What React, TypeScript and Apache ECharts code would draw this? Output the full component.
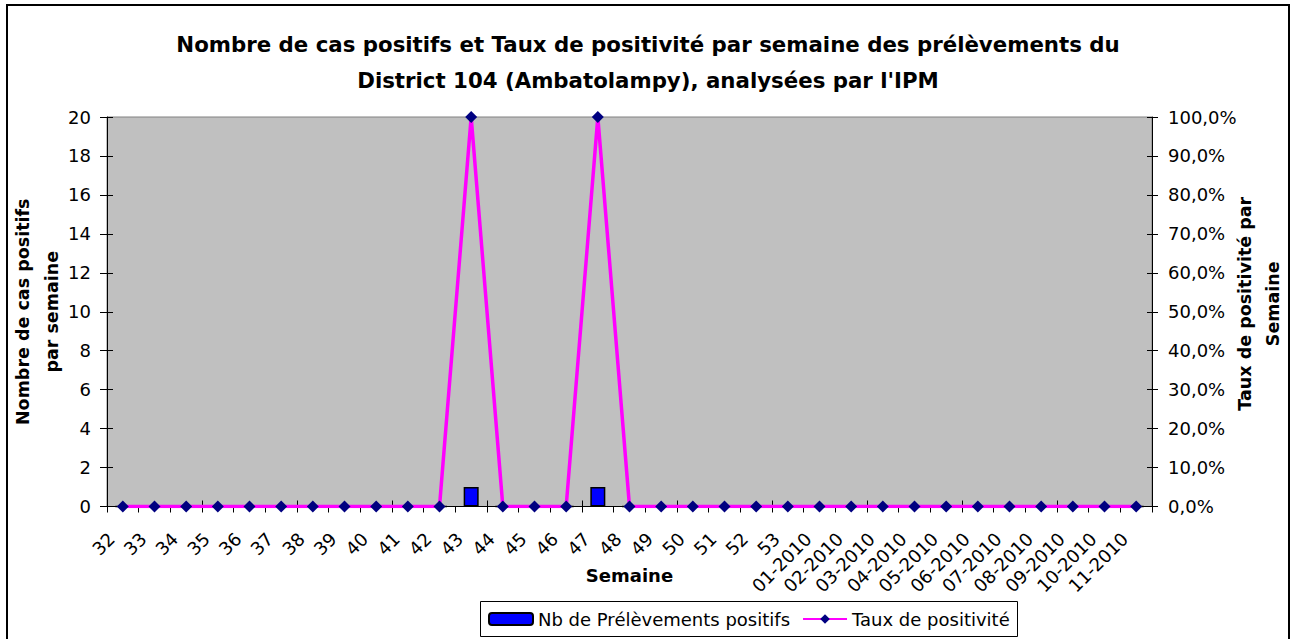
import React, { useEffect, useRef } from 'react';
import * as echarts from 'echarts';

const weeks = [
  '32', '33', '34', '35', '36', '37', '38', '39', '40', '41', '42', '43', '44', '45', '46', '47',
  '48', '49', '50', '51', '52', '53', '01-2010', '02-2010', '03-2010', '04-2010', '05-2010',
  '06-2010', '07-2010', '08-2010', '09-2010', '10-2010', '11-2010',
];
const positiveCounts = [
  0, 0, 0, 0, 0, 0, 0, 0, 0, 0, 0, 1, 0, 0, 0, 1,
  0, 0, 0, 0, 0, 0, 0, 0, 0, 0, 0,
  0, 0, 0, 0, 0, 0,
];
const positivityRate = [
  0, 0, 0, 0, 0, 0, 0, 0, 0, 0, 0, 1, 0, 0, 0, 1,
  0, 0, 0, 0, 0, 0, 0, 0, 0, 0, 0,
  0, 0, 0, 0, 0, 0,
];
const countAxis = { min: 0, max: 20, interval: 2 };
const rateAxis = { min: 0, max: 1, interval: 0.1 };

const titleText =
  "Nombre de cas positifs et Taux de positivité par semaine des prélèvements du\nDistrict 104 (Ambatolampy), analysées par l'IPM";
const seriesBarName = 'Nb de Prélèvements positifs';
const seriesLineName = 'Taux de positivité';

const FONT = '"DejaVu Sans", sans-serif';

export default function App() {
  const ref = useRef<HTMLDivElement>(null);
  useEffect(() => {
    if (!ref.current) return;
    const chart = echarts.init(ref.current, null, { renderer: 'svg' });
    const fmtPct = (v: number) => (v * 100).toFixed(1).replace('.', ',') + '%';
    chart.setOption({
      animation: false,
      backgroundColor: '#ffffff',
      textStyle: { fontFamily: FONT, color: '#000' },
      title: {
        text: titleText,
        left: 'center',
        top: 26,
        padding: 0,
        textStyle: { fontFamily: FONT, fontSize: 21.3, fontWeight: 'bold', color: '#000', lineHeight: 36 },
      },
      graphic: [
        {
          type: 'rect',
          shape: { x: 7, y: 5, width: 1282, height: 645 },
          style: { fill: 'none', stroke: '#000', lineWidth: 2 },
          silent: true,
        },
        {
          type: 'rect',
          shape: { x: 480.5, y: 601.5, width: 537, height: 35 },
          style: { fill: '#fff', stroke: '#000', lineWidth: 1 },
          silent: true,
          z: 0,
        },
      ],
      legend: {
        left: 488,
        top: 610,
        padding: 0,
        itemWidth: 44,
        itemHeight: 12,
        itemGap: 12,
        textStyle: { fontFamily: FONT, fontSize: 18, color: '#000' },
        data: [seriesBarName, seriesLineName],
        z: 10,
      },
      grid: {
        left: 107,
        right: 144,
        top: 117,
        bottom: 132.5,
        outerBoundsMode: 'none',
        containLabel: false,
        show: true,
        backgroundColor: '#C0C0C0',
        borderColor: '#808080',
        borderWidth: 1,
      },
      xAxis: [
        {
          type: 'category',
          data: weeks,
          boundaryGap: true,
          name: 'Semaine',
          nameLocation: 'middle',
          nameGap: 60,
          nameMoveOverlap: false,
          nameTextStyle: { fontFamily: FONT, fontSize: 18, fontWeight: 'bold', color: '#000' },
          axisLine: { show: true, lineStyle: { color: '#000', width: 1 } },
          axisTick: { show: true, inside: false, length: 6, lineStyle: { color: '#000' } },
          axisLabel: {
            interval: 0,
            rotate: 45,
            margin: 18,
            padding: [0, 16, 0, 0],
            fontFamily: FONT,
            fontSize: 18,
            color: '#000',
          },
          splitLine: { show: false },
        },
        {
          type: 'category',
          data: weeks,
          position: 'bottom',
          boundaryGap: true,
          axisLine: { show: false },
          axisTick: { show: true, inside: true, length: 6, lineStyle: { color: '#000' } },
          axisLabel: { show: false },
          splitLine: { show: false },
        },
      ],
      yAxis: [
        {
          type: 'value',
          position: 'left',
          ...countAxis,
          name: 'Nombre de cas positifs\npar semaine',
          nameLocation: 'middle',
          nameRotate: 90,
          nameGap: 41,
          nameMoveOverlap: false,
          nameTextStyle: { fontFamily: FONT, fontSize: 17.5, fontWeight: 'bold', color: '#000', lineHeight: 29 },
          axisLine: { show: true, lineStyle: { color: '#000', width: 1 } },
          axisTick: { show: true, inside: false, length: 7, lineStyle: { color: '#000' } },
          axisLabel: { margin: 16, fontFamily: FONT, fontSize: 18, color: '#000' },
          splitLine: { show: false },
        },
        {
          type: 'value',
          position: 'right',
          ...rateAxis,
          name: 'Taux de positivité par\nSemaine',
          nameLocation: 'middle',
          nameRotate: 90,
          nameGap: 79,
          nameMoveOverlap: false,
          nameTextStyle: {
            fontFamily: FONT,
            fontSize: 17.5,
            fontWeight: 'bold',
            color: '#000',
            lineHeight: 28,
            padding: [0, 0, 0, 16],
          },
          axisLine: { show: true, lineStyle: { color: '#000', width: 1 } },
          axisTick: { show: true, inside: false, length: 6, lineStyle: { color: '#000' } },
          axisLabel: { margin: 16, fontFamily: FONT, fontSize: 18, color: '#000', formatter: fmtPct },
          splitLine: { show: false },
        },
        {
          type: 'value',
          position: 'left',
          ...countAxis,
          axisLine: { show: false },
          axisTick: { show: true, inside: true, length: 6, lineStyle: { color: '#000' } },
          axisLabel: { show: false },
          splitLine: { show: false },
        },
        {
          type: 'value',
          position: 'right',
          ...rateAxis,
          axisLine: { show: false },
          axisTick: { show: true, inside: true, length: 5, lineStyle: { color: '#000' } },
          axisLabel: { show: false },
          splitLine: { show: false },
        },
      ],
      series: [
        {
          name: seriesBarName,
          type: 'bar',
          xAxisIndex: 0,
          yAxisIndex: 0,
          data: positiveCounts,
          barWidth: 15,
          itemStyle: { color: '#0000FF', borderColor: '#000', borderWidth: 1.5 },
          z: 2,
        },
        {
          name: seriesLineName,
          type: 'line',
          xAxisIndex: 0,
          yAxisIndex: 1,
          data: positivityRate,
          symbol: 'diamond',
          symbolSize: 12,
          lineStyle: { color: '#FF00FF', width: 3.5 },
          itemStyle: { color: '#000080' },
          z: 3,
        },
      ],
    });
    return () => chart.dispose();
  }, []);
  return (
    <div
      ref={ref}
      style={{ position: 'absolute', left: 0, top: 0, width: 1296, height: 639 }}
    />
  );
}
